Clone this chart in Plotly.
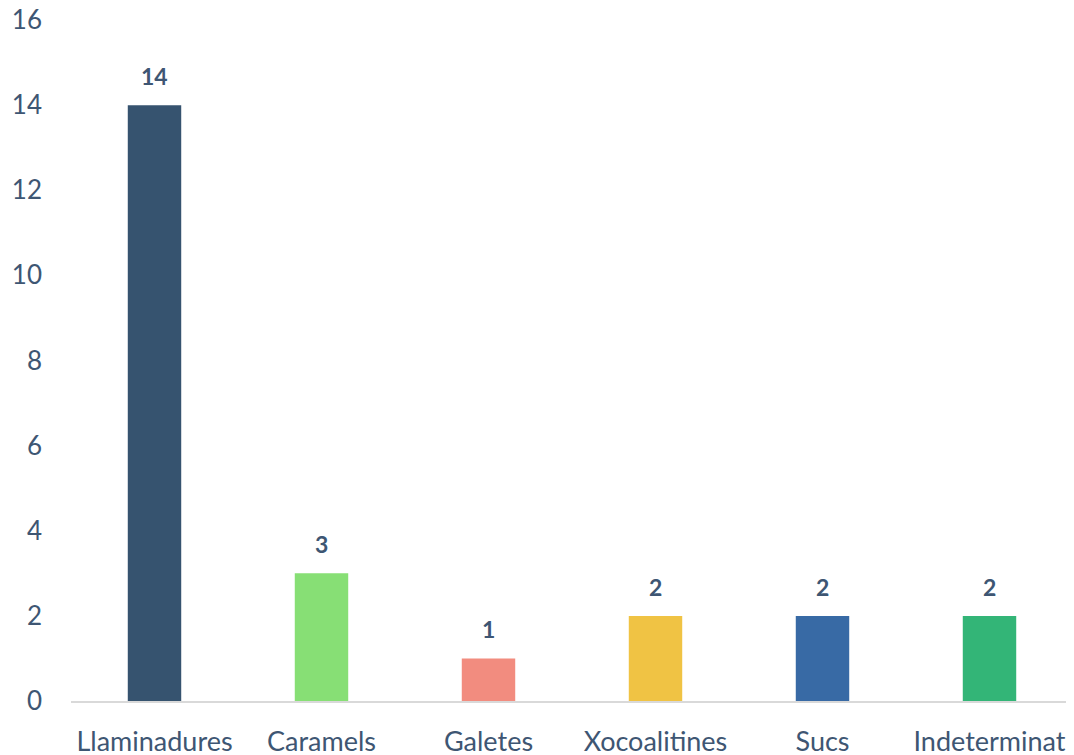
import plotly.graph_objects as go

categories = ["Llaminadures", "Caramels", "Galetes", "Xocoalitines", "Sucs", "Indeterminat"]
counts = [14, 3, 1, 2, 2, 2]
bar_colors = ["#36536F", "#87DF75", "#F28C7F", "#F0C344", "#386AA5", "#33B577"]
y_ticks = [0, 2, 4, 6, 8, 10, 12, 14, 16]

text_color = "#3E5673"

fig = go.Figure()

fig.add_trace(go.Bar(
    x=categories, y=counts,
    marker=dict(color=bar_colors, line=dict(width=0)),
    width=0.32,
    showlegend=False,
    hoverinfo="x+y",
))

# value labels above each bar
for cat, val in zip(categories, counts):
    fig.add_annotation(
        x=cat, y=val, text=f"<b>{val}</b>",
        showarrow=False, yanchor="bottom", yshift=13,
        font=dict(size=23, color=text_color, family="Lato, sans-serif"),
    )

# page body has an 8px margin, so the figure is sized to fit the window
fig.update_layout(
    width=1066, height=747,
    margin=dict(l=63, r=1, t=12, b=54, autoexpand=False),
    paper_bgcolor="white", plot_bgcolor="white",
    font=dict(family="Lato, sans-serif", color=text_color, size=24),
    xaxis=dict(
        automargin=False,
        showgrid=False, showline=True, linecolor="#D9D9D9", linewidth=2,
        ticks="", ticklabelstandoff=16, ticklabeloverflow="allow",
        tickfont=dict(size=27, color=text_color),
    ),
    yaxis=dict(
        automargin=False,
        range=[0, 16], tickvals=y_ticks, showgrid=False, zeroline=False,
        showline=False, ticks="", ticklabelstandoff=28, ticklabeloverflow="allow",
        tickfont=dict(size=26, color=text_color),
    ),
)

fig.write_html("out.html")
